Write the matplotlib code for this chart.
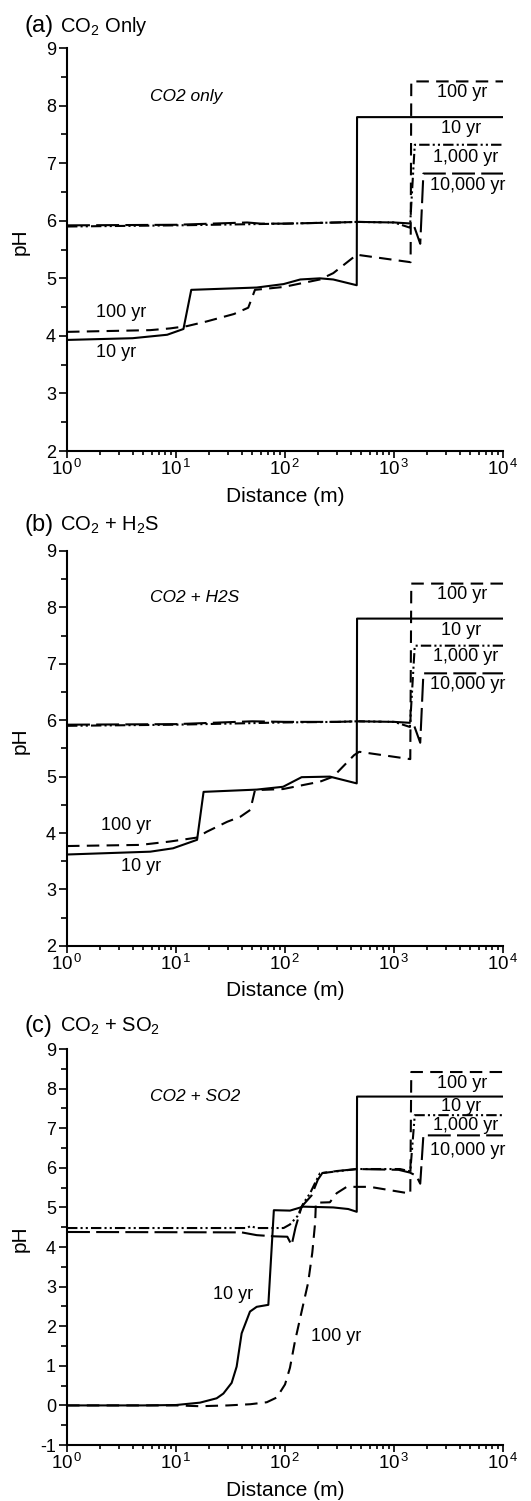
import numpy as np
import matplotlib.pyplot as plt
from matplotlib.ticker import MultipleLocator, LogLocator, NullFormatter

plt.rcParams['font.family'] = ['Liberation Sans', 'DejaVu Sans']
plt.rcParams['mathtext.fontset'] = 'custom'
plt.rcParams['mathtext.rm'] = 'Liberation Sans'
plt.rcParams['mathtext.it'] = 'Liberation Sans:italic'
plt.rcParams['axes.unicode_minus'] = False

# ============================= data
# (a) CO2 only
a_10_x = [1, 4, 8.3, 11.7, 13.8, 55, 97, 138, 209, 277, 455, 458, 1e4]
a_10_y = [3.93, 3.96, 4.02, 4.12, 4.8, 4.84, 4.9, 4.98, 5.0, 4.98, 4.88, 7.8, 7.8]
a_100_x = [1, 5.8, 8.8, 12.6, 19, 34, 46, 53, 97, 209, 277, 455, 1420, 1440, 1e4]
a_100_y = [4.07, 4.1, 4.13, 4.17, 4.25, 4.38, 4.49, 4.8, 4.85, 4.98, 5.09, 5.41, 5.28, 8.42, 8.42]
a_1000_x = [1, 10, 100, 300, 460, 1000, 1400, 1550, 1e4]
a_1000_y = [5.9, 5.92, 5.95, 5.97, 5.98, 5.97, 5.88, 7.32, 7.32]
a_10000_x = [1, 10, 45, 60, 100, 300, 460, 1000, 1500, 1740, 1860, 1e4]
a_10000_y = [5.92, 5.93, 5.97, 5.95, 5.95, 5.97, 5.98, 5.97, 5.95, 5.6, 6.82, 6.82]

# (b) CO2 + H2S
b_10_x = [1, 5.8, 9.4, 15.6, 17.9, 55, 96, 142, 258, 455, 458, 1e4]
b_10_y = [3.62, 3.67, 3.73, 3.88, 4.73, 4.77, 4.82, 4.99, 5.0, 4.88, 7.8, 7.8]
b_100_x = [1, 4.7, 8.8, 15.6, 19, 29.5, 39, 48, 53, 96, 209, 277, 430, 480, 1410, 1440, 1e4]
b_100_y = [3.77, 3.79, 3.85, 3.92, 4.02, 4.2, 4.29, 4.41, 4.76, 4.78, 4.91, 5.0, 5.38, 5.44, 5.31, 8.42, 8.42]
b_1000_x = [1, 10, 100, 300, 460, 1000, 1400, 1550, 1e4]
b_1000_y = [5.9, 5.92, 5.96, 5.97, 5.98, 5.97, 5.88, 7.32, 7.32]
b_10000_x = [1, 10, 50, 100, 300, 460, 1000, 1500, 1740, 1860, 1e4]
b_10000_y = [5.92, 5.93, 5.98, 5.97, 5.97, 5.98, 5.97, 5.95, 5.6, 6.83, 6.83]

# (c) CO2 + SO2
c_10_x = [1, 5, 10, 16.6, 23.6, 27.2, 32.4, 36, 40, 47.7, 55, 70.3, 79, 111, 147, 277, 380, 455, 458, 1e4]
c_10_y = [0, 0, 0.01, 0.07, 0.18, 0.3, 0.57, 0.98, 1.82, 2.37, 2.49, 2.54, 4.93, 4.92, 5.02, 5.0, 4.96, 4.89, 7.8, 7.8]
c_100_x = [1, 10, 16.6, 30, 48, 68, 84, 100, 111, 123, 142, 163, 178, 189, 192, 258, 298, 368, 600, 1410, 1440, 1e4]
c_100_y = [0, 0, -0.02, 0.0, 0.03, 0.08, 0.2, 0.53, 0.95, 1.6, 2.37, 3.1, 3.86, 4.62, 5.12, 5.13, 5.36, 5.52, 5.52, 5.35, 8.42, 8.42]
c_1000_x = [1, 45, 48, 55, 97, 111, 130, 147, 170, 188, 209, 276, 457, 1135, 1410, 1550, 1e4]
c_1000_y = [4.48, 4.48, 4.53, 4.48, 4.48, 4.57, 4.78, 5.1, 5.36, 5.61, 5.86, 5.9, 5.97, 5.97, 5.91, 7.33, 7.33]
c_10000_x = [1, 40, 55, 80, 105, 115, 125, 142, 175, 200, 220, 300, 457, 1100, 1400, 1600, 1740, 1860, 1e4]
c_10000_y = [4.38, 4.37, 4.3, 4.27, 4.26, 4.05, 4.5, 5.02, 5.3, 5.7, 5.87, 5.92, 5.97, 5.95, 5.88, 5.8, 5.6, 6.82, 6.82]

tick_labels = ['$10^{\\,0}$', '$10^{\\,1}$', '$10^{\\,2}$', '$10^{\\,3}$', '$10^{\\,4}$']
right_labels = ['100 yr', '10 yr', '1,000 yr', '10,000 yr']
right_x = [4200, 4120, 4580, 4780]
a_right_y = [8.22, 7.6, 7.1, 6.62]
b_right_y = [8.22, 7.59, 7.13, 6.64]
c_right_y = [8.12, 7.54, 7.08, 6.45]

# ============================= figure
fig = plt.figure(figsize=(5.31, 15.01), dpi=100)

def style(ax, ymin):
    # only left and bottom spines, ticks pointing out
    ax.set_xscale('log')
    ax.set_xlim(1, 1e4)
    ax.set_ylim(ymin, 9)
    for s in ['top', 'right']:
        ax.spines[s].set_visible(False)
    for s in ['left', 'bottom']:
        ax.spines[s].set_linewidth(1.5)
    ax.yaxis.set_major_locator(MultipleLocator(1))
    ax.yaxis.set_minor_locator(MultipleLocator(0.5))
    ax.tick_params(axis='y', which='major', direction='out', length=6, width=1.2, labelsize=13, pad=2)
    ax.tick_params(axis='y', which='minor', direction='out', length=4.5, width=1.2)
    ax.set_xticks([1, 10, 100, 1000, 10000])
    ax.set_xticklabels(tick_labels)
    ax.xaxis.set_minor_locator(LogLocator(base=10, subs=np.arange(2, 10)))
    ax.xaxis.set_minor_formatter(NullFormatter())
    ax.tick_params(axis='x', which='major', direction='out', length=5, width=1.2, labelsize=13.5, pad=1)
    ax.tick_params(axis='x', which='minor', direction='out', length=3, width=1.2)
    ax.set_xlabel('Distance (m)', fontsize=15)
    ax.set_ylabel('pH', fontsize=15)
    ax.xaxis.set_label_coords(0.5, -0.09)
    ax.yaxis.set_label_coords(-0.085, 0.52)

def draw(ax, x10, y10, x100, y100, x1k, y1k, x10k, y10k):
    lw = 1.5
    ax.plot(x10k, y10k, color='k', lw=lw, dashes=(11, 3))
    ax.plot(x1k, y1k, color='k', lw=lw, dashes=(5, 1.5, 1, 1.5, 1, 1.5))
    ax.plot(x100, y100, color='k', lw=lw, dashes=(6, 3.5))
    ax.plot(x10, y10, color='k', lw=lw)

# ---- (a)
ax1 = fig.add_axes([0.1262, 0.6995, 0.8211, 0.2685])
draw(ax1, a_10_x, a_10_y, a_100_x, a_100_y, a_1000_x, a_1000_y, a_10000_x, a_10000_y)
style(ax1, 2)
ax1.text(5.8, 8.15, 'CO2 only', fontsize=12.5, style='italic', ha='left', va='center')
for lab, xx, yy in zip(right_labels, right_x, a_right_y):
    ax1.text(xx, yy, lab, fontsize=13, ha='center', va='center')
ax1.text(3.13, 4.4, '100 yr', fontsize=13, ha='center', va='center')
ax1.text(2.8, 3.72, '10 yr', fontsize=13, ha='center', va='center')
fig.text(0.047, 0.9787, '(a)', fontsize=17, va='baseline')
fig.text(0.113, 0.9787, 'CO$_2$ Only', fontsize=14.5, va='baseline')

# ---- (b)
ax2 = fig.add_axes([0.1262, 0.3698, 0.8211, 0.2632])
draw(ax2, b_10_x, b_10_y, b_100_x, b_100_y, b_1000_x, b_1000_y, b_10000_x, b_10000_y)
style(ax2, 2)
ax2.text(5.8, 8.17, 'CO2 + H2S', fontsize=12.5, style='italic', ha='left', va='center')
for lab, xx, yy in zip(right_labels, right_x, b_right_y):
    ax2.text(xx, yy, lab, fontsize=13, ha='center', va='center')
ax2.text(3.5, 4.14, '100 yr', fontsize=13, ha='center', va='center')
ax2.text(4.8, 3.4, '10 yr', fontsize=13, ha='center', va='center')
fig.text(0.047, 0.6464, '(b)', fontsize=17, va='baseline')
fig.text(0.113, 0.6464, 'CO$_2$ + H$_2$S', fontsize=14.5, va='baseline')

# ---- (c)
ax3 = fig.add_axes([0.1262, 0.0373, 0.8211, 0.2638])
draw(ax3, c_10_x, c_10_y, c_100_x, c_100_y, c_1000_x, c_1000_y, c_10000_x, c_10000_y)
style(ax3, -1)
ax3.text(5.8, 7.79, 'CO2 + SO2', fontsize=12.5, style='italic', ha='left', va='center')
for lab, xx, yy in zip(right_labels, right_x, c_right_y):
    ax3.text(xx, yy, lab, fontsize=13, ha='center', va='center')
ax3.text(33.4, 2.79, '10 yr', fontsize=13, ha='center', va='center')
ax3.text(294, 1.73, '100 yr', fontsize=13, ha='center', va='center')
fig.text(0.047, 0.3127, '(c)', fontsize=17, va='baseline')
fig.text(0.113, 0.3127, 'CO$_2$ + SO$_2$', fontsize=14.5, va='baseline')

plt.savefig('out.png', dpi=100)
